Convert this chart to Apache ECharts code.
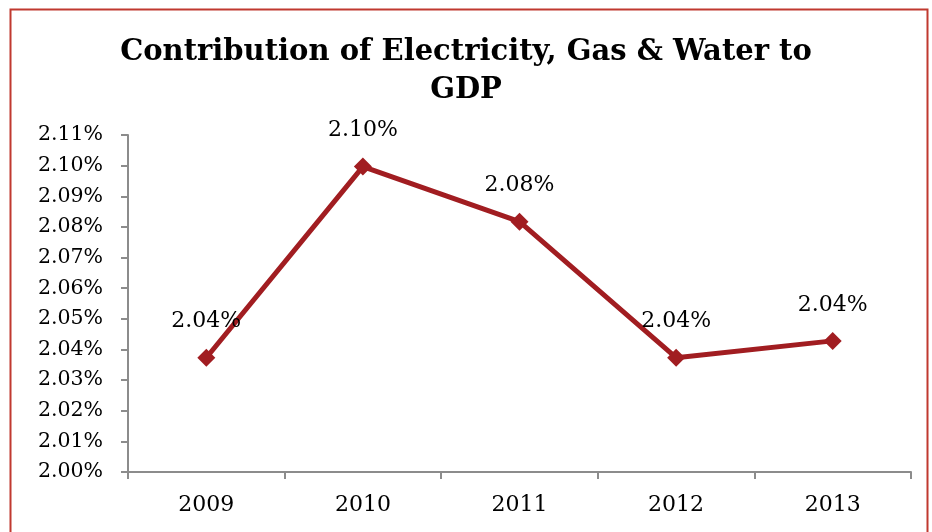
<!DOCTYPE html>
<html>
<head>
<meta charset="utf-8">
<script src="https://cdn.jsdelivr.net/npm/echarts@6/dist/echarts.min.js"></script>
<style>
html,body{margin:0;padding:0;background:#fff;}
#chart{width:932px;height:532px;}
</style>
</head>
<body>
<div id="chart"></div>
<script>
var years = ['2009', '2010', '2011', '2012', '2013'];
var contribution = [2.0373, 2.0997, 2.0817, 2.0373, 2.0428];
var yMin = 2.00, yMax = 2.11, yStep = 0.01;
var titleText = 'Contribution of Electricity, Gas & Water to\nGDP';

var chart = echarts.init(document.getElementById('chart'));
var serif = '"DejaVu Serif", Georgia, serif';
chart.setOption({
  animation: false,
  backgroundColor: '#ffffff',
  graphic: [{
    type: 'rect',
    shape: {x: 10.5, y: 9.5, width: 917, height: 540},
    style: {fill: 'none', stroke: '#c0392f', lineWidth: 2},
    silent: true
  }],
  title: {
    text: titleText,
    left: 'center',
    top: 28,
    padding: [5, 0, 5, 20],
    textStyle: {fontFamily: serif, fontWeight: 'bold', fontSize: 29, color: '#000', lineHeight: 38}
  },
  grid: {left: 128, right: 21, top: 135, bottom: 60, containLabel: false},
  xAxis: {
    type: 'category',
    data: years,
    boundaryGap: true,
    axisLine: {lineStyle: {color: '#8c8c8c', width: 2}},
    axisTick: {show: true, length: 7, lineStyle: {color: '#8c8c8c', width: 2}},
    axisLabel: {fontFamily: serif, fontSize: 22, color: '#000', margin: 22}
  },
  yAxis: {
    type: 'value',
    min: yMin,
    max: yMax,
    interval: yStep,
    splitLine: {show: false},
    axisLine: {show: true, lineStyle: {color: '#8c8c8c', width: 2}},
    axisTick: {show: true, length: 7, lineStyle: {color: '#8c8c8c', width: 2}},
    axisLabel: {
      fontFamily: serif, fontSize: 20.5, color: '#000', margin: 25,
      formatter: function (v) { return v.toFixed(2) + '%'; }
    }
  },
  series: [{
    type: 'line',
    data: contribution,
    symbol: 'diamond',
    symbolSize: 18,
    lineStyle: {color: '#a11d21', width: 5},
    itemStyle: {color: '#a11d21'},
    label: {
      show: true,
      position: 'top',
      distance: 16,
      fontFamily: serif,
      fontSize: 22,
      color: '#000',
      formatter: function (p) { return p.value.toFixed(2) + '%'; }
    }
  }]
});
</script>
</body>
</html>
